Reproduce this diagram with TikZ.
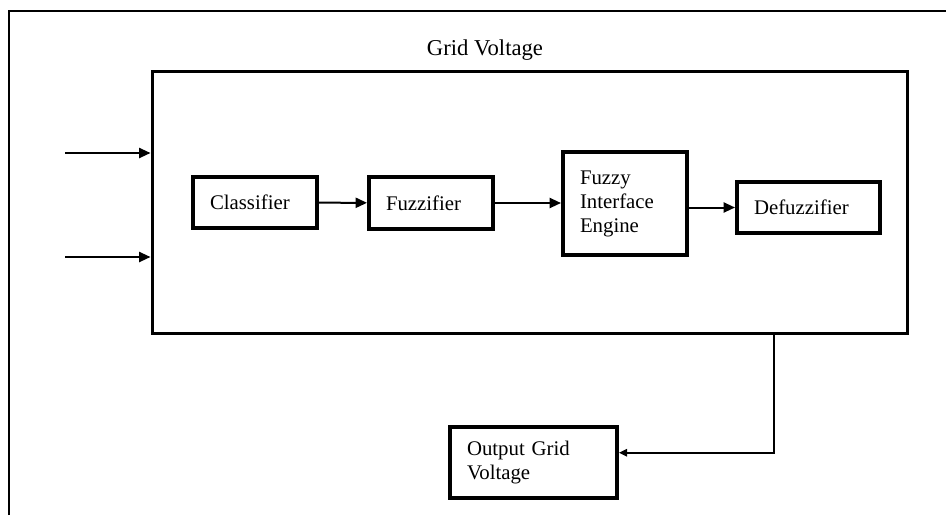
\documentclass[tikz,border=0pt]{standalone}
\usepackage{fontspec}
\setmainfont{Liberation Serif}
\usetikzlibrary{arrows.meta,calc}
\begin{document}
\begin{tikzpicture}[x=0.75pt,y=-0.75pt,
  txt/.style={font=\fontsize{15.6}{18}\selectfont},
  blk/.style={txt,draw,line width=3pt,rectangle,inner xsep=12.75pt,inner ysep=0pt,align=left,text width=67.5pt},
  arr/.style={line width=1.5pt,-{Triangle[length=8.5pt,width=7.5pt]}},
  smallarr/.style={line width=1.5pt,-{Triangle[length=6pt,width=5.5pt]}},
  wire/.style={line width=1.5pt}]
\useasboundingbox (0,0) rectangle (946,515);
\draw[wire] (9,515) -- (9,11) -- (946,11);
\node[draw,line width=2.25pt,inner sep=0pt,minimum width=566.25pt,minimum height=196.5pt] (main) at (529.5,202) {};
\node[font=\fontsize{17}{20}\selectfont] (gv) at (485,50) {Grid Voltage};
\node[blk,minimum height=38.25pt] (cls) at (255,202.5) {Classifier};
\node[blk,minimum height=39pt] (fuz) at (431,203) {Fuzzifier};
\node[blk,minimum height=77.25pt] (fie) at (625,203.5) {Fuzzy\\Interface\\Engine};
\node[blk,text width=81.75pt,minimum height=38.25pt] (def) at (808.5,207.5) {Defuzzifier};
\node[blk,text width=99.75pt,minimum height=53.25pt] (out) at (533.5,462.5) {Output Grid\\Voltage};
\coordinate (in1) at (65,153);
\coordinate (in2) at (65,257);
\draw[arr] (in1) -- (in1 -| main.west);
\draw[arr] (in2) -- (in2 -| main.west);
\draw[arr] (cls) -- (fuz);
\draw[arr] (fuz.east) -- (fie.west |- fuz.east);
\draw[arr] (fie.east |- def.west) -- (def.west);
\coordinate (tap) at (774,333);
\coordinate (outin) at ($(out.north east)!0.37!(out.south east)$);
\draw[smallarr] (tap) |- (outin);
\end{tikzpicture}
\end{document}
